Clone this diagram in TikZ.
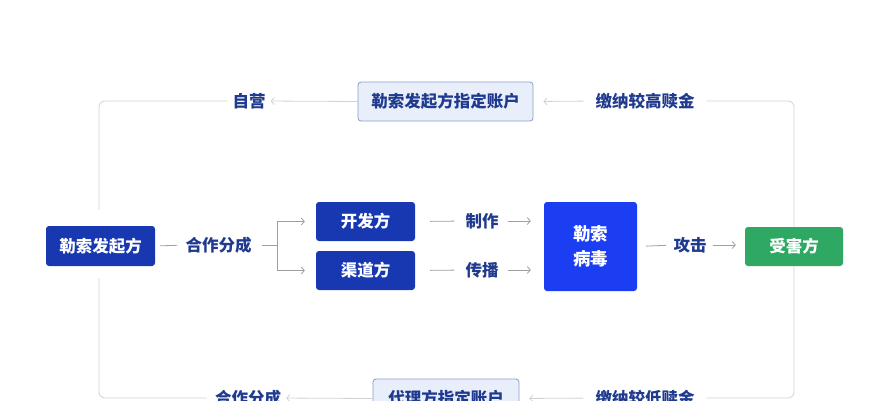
\documentclass[tikz,border=0pt]{standalone}
\usepackage{fontspec}
\newfontfamily\cjk{Noto Sans CJK SC}
\usetikzlibrary{arrows.meta}
\definecolor{darkblue}{HTML}{1838B2}
\definecolor{brightblue}{HTML}{1B3EF2}
\definecolor{vgreen}{HTML}{2EA862}
\definecolor{accfill}{HTML}{E8EEFA}
\definecolor{accdraw}{HTML}{8C9CC8}
\definecolor{labtext}{HTML}{1F3A8E}
\definecolor{loopline}{HTML}{D2D2D2}
\definecolor{midline}{HTML}{A0A0A0}
\tikzset{
  box/.style={rounded corners=3pt, inner sep=0pt, align=center, text=white,
    font=\cjk\bfseries\fontsize{16.5}{22}\selectfont},
  darkbox/.style={box, fill=darkblue},
  accbox/.style={box, fill=accfill, draw=accdraw, line width=0.8pt, text=labtext},
  lab/.style={inner sep=0pt, text=labtext, font=\cjk\bfseries\fontsize{16.5}{22}\selectfont},
  tip/.style={-{Straight Barb[length=3pt,width=7pt]}},
  loop/.style={draw=loopline, line width=0.8pt},
  mid/.style={draw=midline, line width=0.8pt},
}
\begin{document}
\begin{tikzpicture}[x=1pt,y=-1pt]
\clip (0,0) rectangle (890,400);
\fill[white] (0,0) rectangle (890,400);
% main nodes
\node[darkbox, minimum width=109pt, minimum height=40pt] (init) at (100.5,246) {勒索发起方};
\node[darkbox, minimum width=99pt, minimum height=39pt] (dev) at (365.5,221.5) {开发方};
\node[darkbox, minimum width=99pt, minimum height=39pt] (chan) at (365.5,270.5) {渠道方};
\node[box, fill=brightblue, minimum width=93pt, minimum height=89pt,
  font=\cjk\bfseries\fontsize{17.5}{25}\selectfont] (virus) at (590.5,246.5) {勒索\\病毒};
\node[box, fill=vgreen, minimum width=98pt, minimum height=39pt] (victim) at (794,246.5) {受害方};
\node[accbox, minimum width=175pt, minimum height=39pt] (acc1) at (445.5,101.5) {勒索发起方指定账户};
\node[accbox, minimum width=146pt, minimum height=39pt] (acc2) at (446,398.5) {代理方指定账户};
% labels
\node[lab] (coop) at (218.5,245) {合作分成};
\node[lab] (make) at (482,221) {制作};
\node[lab] (spread) at (482,270) {传播};
\node[lab] (attack) at (690,245) {攻击};
\node[lab] (self) at (249,101) {自营};
\node[lab] (high) at (645,101) {缴纳较高赎金};
\node[lab] (low) at (645,398) {缴纳较低赎金};
\node[lab] (coop2) at (248,398) {合作分成};
\coordinate (bx) at (277,245);
\coordinate (tl) at (99,101);
\coordinate (tr) at (794,101);
\coordinate (bl) at (99,398);
\coordinate (br) at (794,398);
% middle connectors
\draw[mid, shorten <=5pt, shorten >=8pt] (init.east) -- (coop.west);
\draw[mid, shorten <=10pt] (coop.east) -- (bx);
\draw[mid, tip, shorten >=11pt] (bx) |- (dev.west);
\draw[mid, tip, shorten >=11pt] (bx) |- (chan.west);
\draw[mid, shorten <=15pt, shorten >=11pt] (dev.east) -- (make.west);
\draw[mid, shorten <=15pt, shorten >=11pt] (chan.east) -- (spread.west);
\draw[mid, tip, shorten <=9pt, shorten >=13pt] (make.east) -- (make.east -| virus.west);
\draw[mid, tip, shorten <=9pt, shorten >=13pt] (spread.east) -- (spread.east -| virus.west);
\draw[mid, shorten <=9pt, shorten >=7pt] (virus.east) -- (attack.west);
\draw[mid, tip, shorten <=6pt, shorten >=9pt] (attack.east) -- (attack.east -| victim.west);
% top loop
\draw[loop, rounded corners=6pt, shorten >=12pt] (victim.north) -- (tr) -- (high.east);
\draw[loop, tip, shorten <=12pt, shorten >=10pt] (high.west) -- (acc1.east);
\draw[loop, tip, shorten >=5pt] (acc1.west) -- (self.east);
\draw[loop, rounded corners=6pt, shorten <=5pt, shorten >=16pt] (self.west) -- (tl) -- (init.north -| tl);
% bottom loop
\draw[loop, rounded corners=6pt, shorten >=12pt] (victim.south) -- (br) -- (low.east);
\draw[loop, tip, shorten <=12pt, shorten >=10pt] (low.west) -- (acc2.east);
\draw[loop, tip, shorten >=5pt] (acc2.west) -- (coop2.east);
\draw[loop, rounded corners=6pt, shorten <=8pt, shorten >=12pt] (coop2.west) -- (bl) -- (init.south -| bl);
\end{tikzpicture}
\end{document}
